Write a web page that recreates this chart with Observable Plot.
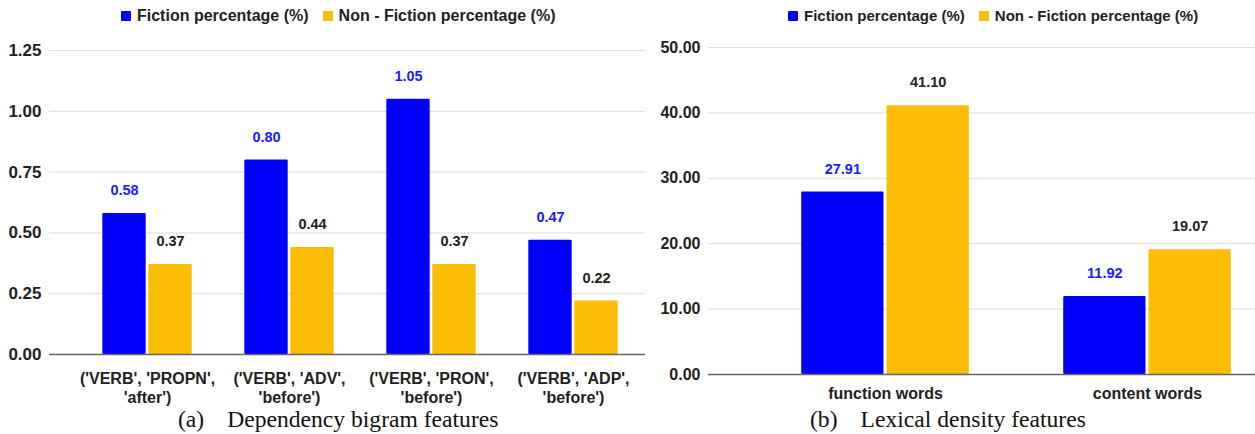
<!DOCTYPE html>
<html><head><meta charset="utf-8">
<script src="https://cdn.jsdelivr.net/npm/d3@7"></script>
<script src="https://cdn.jsdelivr.net/npm/@observablehq/plot@0.6"></script>
<style>
body{margin:0;background:#fff;}
#wrap{position:relative;width:1255px;height:434px;overflow:hidden;font-family:"Liberation Sans",Arial,sans-serif;}
.panel{position:absolute;top:0;height:434px;}
.legend{position:absolute;top:8px;display:flex;align-items:center;font-weight:700;color:#222;white-space:nowrap;line-height:16px;}
.item{display:flex;align-items:center;margin-right:14px;}
.sw{width:10px;height:10px;border-radius:1px;margin-right:6px;}
.panel svg{position:absolute;top:30px;left:0;overflow:visible;}
.caption{position:absolute;top:406px;font-family:"Liberation Serif","Times New Roman",serif;font-size:23.6px;line-height:26px;color:#111;white-space:nowrap;}
.caption span{margin-right:23px;}
</style></head>
<body>
<div id="wrap">
  <div class="panel" id="pa" style="left:0;width:650px;">
    <div class="legend" id="lega" style="left:121px;font-size:16px;"></div>
    <div class="caption" id="capa" style="left:178px;"></div>
  </div>
  <div class="panel" id="pb" style="left:650px;width:605px;">
    <div class="legend" id="legb" style="left:138px;font-size:15px;"></div>
    <div class="caption" id="capb" style="left:160px;"></div>
  </div>
</div>
<script>
// ---- data ----
const seriesNames = ["Fiction percentage (%)", "Non - Fiction percentage (%)"];
const seriesColors = ["#0000ff", "#fbbc04"];
const labelColors = ["#1a1aff", "#212121"];

const categoriesA = ["('VERB', 'PROPN', 'after')", "('VERB', 'ADV', 'before')", "('VERB', 'PRON', 'before')", "('VERB', 'ADP', 'before')"];
const tickLabelsA = ["('VERB', 'PROPN',\n'after')", "('VERB', 'ADV',\n'before')", "('VERB', 'PRON',\n'before')", "('VERB', 'ADP',\n'before')"];
const fictionA = [0.58, 0.80, 1.05, 0.47];
const nonFictionA = [0.37, 0.44, 0.37, 0.22];
const yTicksA = [0, 0.25, 0.5, 0.75, 1.0, 1.25];
const captionA = ["(a)", "Dependency bigram features"];

const categoriesB = ["function words", "content words"];
const tickLabelsB = ["function words", "content words"];
const fictionB = [27.91, 11.92];
const nonFictionB = [41.10, 19.07];
const yTicksB = [0, 10, 20, 30, 40, 50];
const captionB = ["(b)", "Lexical density features"];

function legend(el) {
  seriesNames.forEach((n, i) => {
    const it = document.createElement("div"); it.className = "item";
    const sw = document.createElement("div"); sw.className = "sw"; sw.style.background = seriesColors[i];
    const t = document.createElement("span"); t.textContent = n;
    it.appendChild(sw); it.appendChild(t); el.appendChild(it);
  });
}
function caption(el, c) {
  const s = document.createElement("span"); s.textContent = c[0];
  el.appendChild(s); el.appendChild(document.createTextNode(c[1]));
}

function chart({cats, ticks, f, nf, yTicks, yMax, width, height, mt, mb, ml, mr, range, barW, gap, tickPad, lineH, xFont, yFont, vFont}) {
  const rows = [];
  cats.forEach((c, i) => {
    rows.push({cat: c, s: 0, v: f[i]});
    rows.push({cat: c, s: 1, v: nf[i]});
  });
  const bw = (range[1] - range[0]) / cats.length;
  const outer = (bw - 2 * barW - gap) / 2;
  const inner = bw / 2 + gap / 2;
  const off = gap / 2 + barW / 2;
  const marks = [
    Plot.gridY(yTicks, {stroke: "#dcdcdc", strokeOpacity: 1}),
    Plot.barY(rows.filter(d => d.s === 0), {x: "cat", y: "v", fill: seriesColors[0], insetLeft: outer, insetRight: inner, rx: 1}),
    Plot.barY(rows.filter(d => d.s === 1), {x: "cat", y: "v", fill: seriesColors[1], insetLeft: inner, insetRight: outer, rx: 1}),
    Plot.ruleY([0], {stroke: "#666", strokeWidth: 1.5}),
    Plot.text(rows.filter(d => d.s === 0), {x: "cat", y: "v", text: d => d.v.toFixed(2), dx: -off, dy: -23, fill: labelColors[0], fontSize: vFont, fontWeight: "bold"}),
    Plot.text(rows.filter(d => d.s === 1), {x: "cat", y: "v", text: d => d.v.toFixed(2), dx: off, dy: -23, fill: labelColors[1], fontSize: vFont, fontWeight: "bold"}),
    Plot.axisY({ticks: yTicks, tickSize: 0, tickPadding: 8, tickFormat: d3.format(".2f"), fontSize: yFont, fontWeight: "bold", label: null}),
    Plot.axisX({tickSize: 0, tickPadding: tickPad, fontSize: xFont, fontWeight: "bold", lineHeight: lineH, label: null,
      tickFormat: d => ticks[cats.indexOf(d)]})
  ];
  return Plot.plot({
    width, height, marginTop: mt, marginBottom: mb, marginLeft: ml, marginRight: mr,
    style: {fontFamily: "'Liberation Sans', Arial, sans-serif", color: "#212121", background: "transparent", overflow: "visible"},
    x: {type: "band", domain: cats, range, padding: 0},
    y: {domain: [0, yMax], range: [height - mb, mt]},
    marks
  });
}

legend(document.getElementById("lega"));
legend(document.getElementById("legb"));
caption(document.getElementById("capa"), captionA);
caption(document.getElementById("capb"), captionB);

const svgA = chart({cats: categoriesA, ticks: tickLabelsA, f: fictionA, nf: nonFictionA, yTicks: yTicksA, yMax: 1.25,
  width: 650, height: 380, mt: 20, mb: 56, ml: 49, mr: 5, range: [74.5, 645], barW: 44, gap: 2, tickPad: 16, lineH: 1.2, xFont: 16, yFont: 17, vFont: 14.5});
document.getElementById("pa").appendChild(svgA);

const svgB = chart({cats: categoriesB, ticks: tickLabelsB, f: fictionB, nf: nonFictionB, yTicks: yTicksB, yMax: 50,
  width: 605, height: 380, mt: 17, mb: 36, ml: 58, mr: 0, range: [103.5, 629], barW: 83, gap: 2.3, tickPad: 11, lineH: 1.2, xFont: 16, yFont: 16, vFont: 14.5});
document.getElementById("pb").appendChild(svgB);
</script>
</body></html>
